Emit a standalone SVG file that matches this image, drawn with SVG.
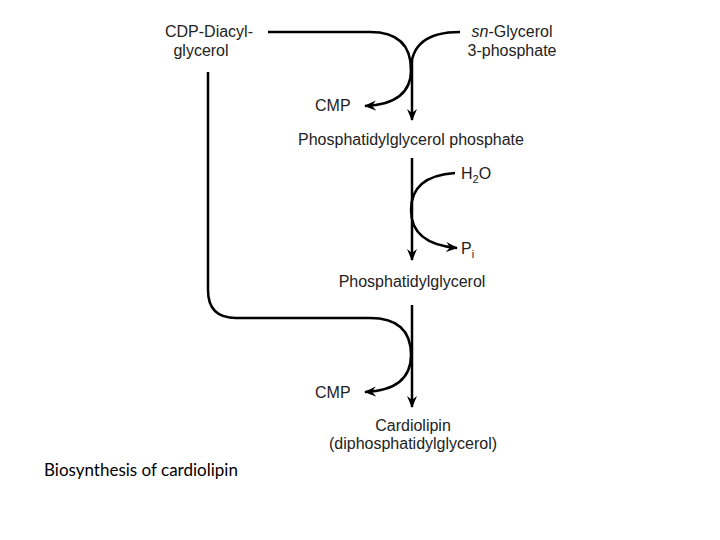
<svg xmlns="http://www.w3.org/2000/svg" width="720" height="540" viewBox="0 0 720 540">
<defs>
<marker id="ah" markerWidth="14" markerHeight="14" refX="11" refY="6" orient="auto" markerUnits="userSpaceOnUse"><path d="M0,1 L12,6 L0,11 L4,6 Z" fill="#000"/></marker>
<style>
text{font-family:"Liberation Sans",Arial,sans-serif;font-size:16px;fill:#222}
.c{fill:none;stroke:#000;stroke-width:2.5}
</style>
</defs>
<rect width="720" height="540" fill="#fff"/>
<g id="connectors">
<path class="c" d="M268,32 H370 Q411,32 411,70 Q411,104 365,106" marker-end="url(#ah)"/>
<path class="c" d="M460,32 Q411,32 411,70"/>
<path class="c" d="M412,60 V120" marker-end="url(#ah)"/>
<path class="c" d="M412,158 V260" marker-end="url(#ah)"/>
<path class="c" d="M455,173 Q411,176 411,210 Q411,244 457,248" marker-end="url(#ah)"/>
<path class="c" d="M208,72 V290 Q208,318 236,318 H370 Q411,318 411,355 Q411,390 365,392" marker-end="url(#ah)"/>
<path class="c" d="M412,305 V407" marker-end="url(#ah)"/>
</g>
<g id="cdp"><text x="165" y="37">CDP-Diacyl-</text><text x="201" y="56" text-anchor="middle">glycerol</text></g>
<g id="g3p"><text x="512" y="37" text-anchor="middle"><tspan font-style="italic">sn</tspan>-Glycerol</text><text x="512" y="56" text-anchor="middle">3-phosphate</text></g>
<g id="cmp1"><text x="315" y="111">CMP</text></g>
<g id="pgp"><text x="411" y="145" text-anchor="middle">Phosphatidylglycerol phosphate</text></g>
<g id="h2o"><text x="461" y="179">H<tspan font-size="11" dy="4">2</tspan><tspan dy="-4">O</tspan></text></g>
<g id="pi"><text x="461" y="254">P<tspan font-size="11" dy="4">i</tspan></text></g>
<g id="pg"><text x="412" y="287" text-anchor="middle">Phosphatidylglycerol</text></g>
<g id="cmp2"><text x="315" y="398">CMP</text></g>
<g id="cl"><text x="413" y="431" text-anchor="middle">Cardiolipin</text><text x="413" y="449" text-anchor="middle">(diphosphatidylglycerol)</text></g>
<g id="caption"><text x="44" y="476" style="font-family:Lato,'Liberation Sans',sans-serif;font-size:17px;fill:#000">Biosynthesis of cardiolipin</text></g>
</svg>
